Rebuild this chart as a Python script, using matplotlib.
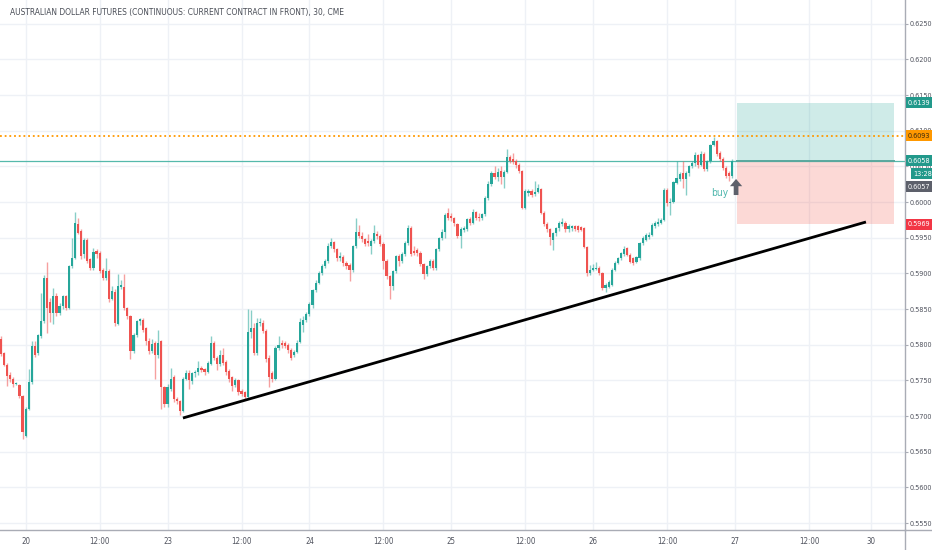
import numpy as np
import matplotlib
matplotlib.use("Agg")
import matplotlib.pyplot as plt
from matplotlib.patches import Rectangle
from matplotlib.lines import Line2D
from matplotlib.transforms import blended_transform_factory
from matplotlib import font_manager

# ---------------- data (prices in 1/10000) ----------------
TITLE = "AUSTRALIAN DOLLAR FUTURES (CONTINUOUS: CURRENT CONTRACT IN FRONT), 30, CME"

OPEN = [5808,5788,5772,5757,5752,5745,5744,5728,5672,5710,
        5748,5798,5788,5812,5833,5894,5860,5845,5868,5845,
        5854,5868,5852,5910,5922,5969,5959,5927,5947,5920,
        5908,5931,5929,5905,5894,5903,5864,5874,5829,5881,
        5881,5851,5840,5791,5813,5833,5835,5823,5805,5791,
        5802,5785,5805,5740,5717,5738,5755,5724,5721,5707,
        5752,5760,5749,5760,5762,5768,5766,5762,5773,5802,
        5781,5773,5785,5776,5763,5754,5744,5750,5735,5733,
        5727,5818,5824,5789,5830,5831,5819,5782,5760,5752,
        5796,5803,5802,5799,5792,5786,5790,5804,5828,5835,
        5843,5855,5876,5887,5900,5910,5917,5938,5944,5934,
        5922,5923,5915,5912,5905,5938,5958,5953,5948,5946,
        5939,5945,5955,5952,5941,5917,5896,5882,5903,5924,
        5918,5927,5942,5964,5932,5933,5929,5913,5899,5910,
        5917,5908,5934,5949,5958,5984,5980,5977,5969,5953,
        5961,5962,5976,5971,5986,5979,5977,5983,6006,6025,
        6041,6035,6043,6035,6042,6063,6060,6057,6052,6043,
        5992,6012,6016,6011,6014,6018,5985,5969,5962,5947,
        5956,5963,5969,5971,5962,5963,5966,5966,5965,5963,
        5937,5900,5905,5906,5908,5900,5879,5881,5884,5905,
        5915,5921,5927,5935,5926,5921,5916,5921,5942,5947,
        5951,5954,5966,5969,5971,5975,6017,5999,6000,6027,
        6032,6040,6032,6040,6050,6054,6066,6052,6068,6046,
        6057,6080,6085,6069,6061,6047,6040,6036]
HIGH = [5812,5790,5775,5762,5755,5748,5745,5730,5712,5766,
        5805,5805,5815,5872,5898,5916,5866,5880,5872,5858,
        5870,5870,5912,5950,5986,5978,5962,5950,5950,5922,
        5935,5934,5931,5908,5922,5906,5882,5878,5899,5890,
        5899,5853,5842,5816,5835,5838,5837,5825,5810,5808,
        5805,5820,5807,5742,5745,5767,5757,5727,5723,5754,
        5765,5765,5762,5764,5777,5770,5768,5777,5812,5805,
        5784,5792,5795,5779,5766,5756,5753,5752,5738,5735,
        5850,5848,5830,5838,5838,5834,5822,5785,5763,5798,
        5812,5806,5805,5802,5795,5792,5806,5838,5840,5846,
        5860,5878,5890,5903,5913,5920,5942,5950,5946,5936,
        5930,5926,5918,5915,5940,5978,5968,5958,5950,5955,
        5948,5968,5960,5955,5944,5920,5898,5905,5926,5927,
        5930,5945,5968,5966,5938,5936,5931,5915,5912,5920,
        5920,5936,5951,5962,5984,5991,5985,5979,5971,5965,
        5966,5978,5979,5990,5988,5984,5985,6008,6030,6044,
        6050,6048,6050,6045,6074,6066,6069,6060,6054,6045,
        6018,6018,6018,6030,6025,6020,5988,5972,5964,5958,
        5965,5973,5977,5973,5969,5968,5968,5968,5967,5965,
        5939,5912,5913,5916,5910,5902,5886,5890,5907,5917,
        5923,5930,5938,5937,5928,5923,5925,5944,5952,5956,
        5958,5970,5973,5978,5978,6019,6019,6005,6030,6057,
        6042,6058,6044,6052,6058,6070,6068,6072,6070,6059,
        6082,6091,6087,6072,6063,6050,6043,6060]
LOW = [5784,5770,5742,5748,5740,5743,5725,5668,5670,5708,
       5745,5783,5785,5810,5830,5817,5832,5829,5840,5842,
       5850,5848,5850,5907,5920,5955,5920,5922,5914,5905,
       5905,5922,5900,5890,5890,5860,5862,5826,5827,5878,
       5848,5836,5780,5788,5811,5828,5818,5800,5787,5788,
       5752,5782,5710,5712,5712,5735,5720,5717,5702,5705,
       5750,5738,5745,5755,5758,5762,5758,5760,5771,5778,
       5765,5770,5772,5758,5748,5735,5740,5730,5728,5724,
       5725,5810,5785,5786,5826,5816,5776,5740,5748,5750,
       5792,5796,5795,5788,5779,5783,5788,5802,5818,5832,
       5840,5852,5874,5885,5898,5908,5915,5936,5930,5918,
       5918,5910,5906,5889,5902,5935,5950,5944,5938,5938,
       5927,5943,5948,5938,5906,5892,5864,5876,5900,5910,
       5915,5925,5940,5925,5926,5925,5910,5892,5896,5908,
       5905,5905,5932,5947,5950,5975,5974,5966,5950,5936,
       5958,5960,5968,5969,5975,5974,5975,5980,6003,6022,
       6032,6030,6025,6020,6040,6055,6053,6048,6040,5990,
       5990,6008,6007,6009,6012,5983,5966,5958,5940,5933,
       5953,5960,5966,5958,5958,5960,5960,5958,5959,5935,
       5896,5897,5903,5904,5897,5876,5874,5879,5882,5903,
       5913,5919,5925,5924,5914,5912,5914,5919,5940,5945,
       5948,5952,5964,5967,5969,5973,5995,5982,5998,6025,
       6030,6020,6010,6036,6048,6050,6048,6050,6044,6044,
       6055,6078,6065,6058,6045,6033,6030,6034]
CLOSE = [5787,5772,5756,5752,5745,5746,5728,5677,5710,5748,
         5798,5786,5813,5833,5894,5852,5845,5868,5845,5854,
         5868,5852,5910,5922,5971,5957,5924,5947,5917,5908,
         5930,5927,5903,5894,5903,5864,5875,5830,5882,5884,
         5852,5840,5791,5813,5833,5836,5821,5805,5791,5801,
         5785,5802,5740,5717,5740,5752,5724,5721,5707,5752,
         5760,5750,5760,5762,5768,5765,5762,5775,5802,5781,
         5773,5785,5775,5761,5752,5742,5750,5734,5731,5727,
         5818,5824,5789,5831,5831,5819,5780,5754,5752,5796,
         5800,5799,5798,5792,5782,5790,5803,5832,5835,5843,
         5857,5876,5887,5900,5910,5917,5939,5944,5934,5922,
         5925,5914,5910,5905,5938,5958,5953,5948,5941,5942,
         5945,5956,5952,5941,5917,5896,5882,5903,5924,5917,
         5927,5942,5964,5927,5929,5929,5913,5899,5910,5917,
         5908,5934,5949,5958,5982,5978,5977,5970,5953,5962,
         5964,5976,5971,5986,5978,5977,5983,6006,6025,6041,
         6035,6042,6035,6042,6063,6058,6056,6052,6043,5992,
         6016,6016,6010,6014,6019,5985,5969,5962,5951,5956,
         5963,5970,5972,5962,5966,5966,5962,5961,5961,5937,
         5900,5905,5907,5908,5900,5879,5884,5888,5905,5915,
         5921,5928,5934,5926,5916,5915,5923,5942,5949,5954,
         5954,5968,5971,5972,5975,6017,5999,6000,6028,6033,
         6039,6032,6040,6050,6054,6066,6052,6068,6046,6057,
         6080,6085,6068,6061,6047,6036,6036,6057]

DAY_LABELS = ["20", "12:00", "23", "12:00", "24", "12:00", "25", "12:00",
              "26", "12:00", "27", "12:00", "30"]
PRICE_TICKS = [0.5550, 0.5600, 0.5650, 0.5700, 0.5750, 0.5800, 0.5850, 0.5900,
               0.5950, 0.6000, 0.6050, 0.6100, 0.6150, 0.6200, 0.6250]

TAKE_PROFIT = 0.6139
ENTRY = 0.6058
STOP = 0.5969
ALERT = 0.6093
LAST = 0.6057
COUNTDOWN = "13:28"
TREND_START = (59.0, 0.56972)   # (bar, price)
TREND_END = (280.4, 0.59720)

# ---------------- styling ----------------
GREEN = "#26a69a"
RED = "#ef5350"
GRID = "#eef1f6"
AXC = "#a9acb5"
TXT = "#50535e"

# pick the narrowest available sans font
ents = font_manager.fontManager.ttflist
names = {f.name for f in ents}
FAM, STRETCH = "Liberation Sans", "normal"
if "Liberation Sans Narrow" in names:
    FAM, STRETCH = "Liberation Sans Narrow", "normal"
elif any(f.name == "DejaVu Sans" and f.stretch in ("condensed", "semi-condensed") for f in ents):
    FAM, STRETCH = "DejaVu Sans", "condensed"
else:
    cond = sorted(n for n in names if ("Condensed" in n or "Narrow" in n) and "Mono" not in n)
    if cond:
        FAM = cond[0]
FAMS = [FAM, "DejaVu Sans"]

W, H = 932, 550
fig = plt.figure(figsize=(W / 100, H / 100), dpi=100)
fig.patch.set_facecolor("white")
ax = fig.add_axes([0, 20 / H, 905 / W, 530 / H])
renderer = fig.canvas.get_renderer()


def fit(text, maxw, start):
    t = fig.text(0, 0, text, fontsize=start, family=FAMS, fontstretch=STRETCH)
    w = t.get_window_extent(renderer).width
    t.remove()
    return start * min(1.0, maxw / w)


o = np.array(OPEN) / 1e4
h = np.array(HIGH) / 1e4
l = np.array(LOW) / 1e4
c = np.array(CLOSE) / 1e4
x = np.arange(len(o))
up = c >= o

YMIN, YMAX = 0.55402, 0.62832
XMIN, XMAX = -0.3, 293.06
ax.set_xlim(XMIN, XMAX)
ax.set_ylim(YMIN, YMAX)
px_per_unit = 530 / (YMAX - YMIN)

# grid / ticks
first_day_bar = 8
session_offsets = [0, 24, 46, 70, 92, 116, 138, 162, 184, 208, 230, 254, 274]
ax.set_xticks([first_day_bar + s for s in session_offsets])
ax.set_xticklabels(DAY_LABELS)
ax.set_yticks(PRICE_TICKS)
ax.set_yticklabels([f"{v:.4f}" for v in PRICE_TICKS])
ax.grid(True, color=GRID, lw=1)
ax.set_axisbelow(True)

# candles
body = np.maximum(np.abs(c - o), 0.00012)
for mask, col in ((up, GREEN), (~up, RED)):
    ax.vlines(x[mask], l[mask], h[mask], color=col, lw=1.0, alpha=0.55, zorder=2)
    ax.bar(x[mask], body[mask], bottom=np.minimum(o, c)[mask], width=0.7,
           color=col, linewidth=0, zorder=3)

# horizontal price lines
ax.axhline(ENTRY, color="#55b9ab", lw=0.9, zorder=1.5)
ax.axhline(ALERT, color="#ff9800", lw=1.3, ls=(0, (1, 1.6)), zorder=4)

# long position tool
pos_x0, pos_x1 = 238.6, 289.5
ax.add_patch(Rectangle((pos_x0, ENTRY), pos_x1 - pos_x0, TAKE_PROFIT - ENTRY,
                       facecolor=GREEN, alpha=0.22, linewidth=0, zorder=1.2))
ax.add_patch(Rectangle((pos_x0, STOP), pos_x1 - pos_x0, ENTRY - STOP,
                       facecolor="#f44336", alpha=0.2, linewidth=0, zorder=1.2))
ax.plot([pos_x0, pos_x1], [ENTRY, ENTRY], color="#5aa89e", lw=1.4, zorder=2)

# trend line
ax.plot([TREND_START[0], TREND_END[0]], [TREND_START[1], TREND_END[1]],
        color="black", lw=2, solid_capstyle="butt", zorder=5)

# buy signal
ax.annotate("", xy=(238.3, 0.60323), xytext=(238.3, 0.60098),
            arrowprops=dict(width=3.4, headwidth=8.8, headlength=5.2,
                            facecolor="#5d606b", edgecolor="none"), zorder=6)
ax.text(233.0, 0.6012, "buy", color="#4db6ac", fontsize=fit("buy", 17, 10),
        family=FAMS, fontstretch=STRETCH, ha="center", va="center", zorder=6)

# axes styling
for s in ("top", "left"):
    ax.spines[s].set_visible(False)
for s in ("right", "bottom"):
    ax.spines[s].set_color(AXC)
    ax.spines[s].set_linewidth(1)
lab_fs = fit("0.6250", 22.5, 7.5)
ax.yaxis.tick_right()
ax.tick_params(axis="y", length=2.5, width=0.8, color=AXC, labelcolor=TXT, labelsize=lab_fs, pad=1)
ax.tick_params(axis="x", length=0, labelcolor=TXT, labelsize=fit("12:00", 20, 7.5), pad=5)
for lab in ax.get_yticklabels() + ax.get_xticklabels():
    lab.set_family(FAMS)
    lab.set_fontstretch(STRETCH)

# axis line extensions beyond plot area
fig.add_artist(Line2D([905 / W, 905 / W], [0, 20 / H], transform=fig.transFigure, color=AXC, lw=1))
fig.add_artist(Line2D([905 / W, 1], [20 / H, 20 / H], transform=fig.transFigure, color=AXC, lw=1))

# right-hand price tags
blend = blended_transform_factory(fig.transFigure, ax.transData)
tag_h = 11 / px_per_unit


def tag(y, text, fc, tc="white", x0=906 / W):
    ax.add_patch(Rectangle((x0, y - tag_h / 2), 1 - x0, tag_h, transform=blend,
                           facecolor=fc, edgecolor="none", clip_on=False, zorder=10))
    ax.text(x0 + 1.8 / W, y, text, transform=blend, color=tc, fontsize=lab_fs,
            family=FAMS, fontstretch=STRETCH, va="center", ha="left",
            clip_on=False, zorder=11)


tag(TAKE_PROFIT, f"{TAKE_PROFIT:.4f}", "#22998b")
tag(ALERT, f"{ALERT:.4f}", "#ff9800", tc="#3a2a10")
tag(ENTRY, f"{ENTRY:.4f}", "#22998b")
tag(ENTRY - 13 / px_per_unit, COUNTDOWN, "#22998b", x0=911 / W)
tag(ENTRY - 26 / px_per_unit, f"{LAST:.4f}", "#5d606b")
tag(STOP, f"{STOP:.4f}", "#f23645")

# title
fig.text(10 / W, 1 - 12 / H, TITLE, fontsize=fit(TITLE, 330, 7.5), color="#4a4e57",
         family=FAMS, fontstretch=STRETCH, va="center", ha="left")

fig.savefig("out.png", dpi=100, facecolor="white")
